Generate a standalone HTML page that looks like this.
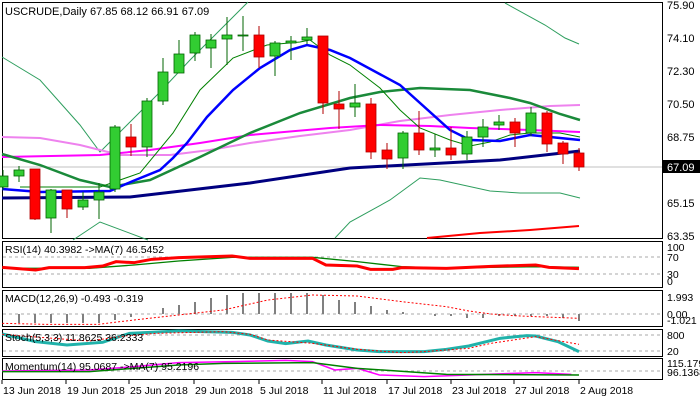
<!DOCTYPE html>
<html><head><meta charset="utf-8"><style>
body{margin:0;background:#fff}
svg{display:block;font-family:"Liberation Sans",sans-serif;font-size:10.5px}
.ns{vector-effect:non-scaling-stroke;fill:none}
</style></head><body>
<svg width="700" height="400" viewBox="0 0 700 400">
<rect width="700" height="400" fill="#fff"/>
<!-- main panel -->
<rect x="2.5" y="2.5" width="660" height="236" fill="none" stroke="#000"/>
<line x1="3" y1="167" x2="662" y2="167" stroke="#c0c0c0"/>
<g fill="none">
<polyline stroke="#2e9e5e" stroke-width="1" points="2,57 40,80 80,125 100,152 130,122 160,92 190,60 220,30 240,10 248,2"/>
<polyline stroke="#2e9e5e" stroke-width="1" points="505,3 545,25 565,38 579,44"/>
<polyline stroke="#2e9e5e" stroke-width="1" points="73,240 100,222 148,240"/>
<polyline stroke="#2e9e5e" stroke-width="1" points="335,238 350,222 390,200 420,178 440,180 490,191 520,193 560,193 580,198"/>
<polyline stroke="#ff0000" stroke-width="2" points="427,238 480,233 530,230 579,226"/>
<polyline stroke="#ee82ee" stroke-width="2" points="2,137 40,138 80,145 120,155 170,155 210,150 250,143 300,136 350,130 400,121 450,115 500,110 550,106 580,105"/>
<polyline stroke="#ff00ff" stroke-width="2" points="2,157 100,155 150,150 200,143 250,135 330,128 380,125 430,126 470,128 530,130 580,132"/>
<polyline stroke="#000080" stroke-width="3" points="2,198 130,197 250,183 350,168 500,160 580,151"/>
<polyline stroke="#1a8a3a" stroke-width="2.5" points="2,154 40,165 80,180 110,187 150,180 200,157 250,133 300,113 350,98 380,92 420,88 470,90 510,98 530,103 560,114 580,120"/>
<polyline stroke="#008000" stroke-width="1" points="20,187 100,187 140,173 173,133 200,90 233,58 267,45 300,42 310,40 330,55 350,65 380,88 400,110 420,128 450,140 470,146 490,142 510,135 530,133 560,133 580,137"/>
<polyline stroke="#0000ff" stroke-width="2.5" points="2,189 40,192 110,191 133,181 160,170 173,158 187,143 207,117 233,90 260,68 290,50 307,45 330,50 350,58 400,85 450,130 470,140 500,141 530,135 550,137 580,140"/>
</g>
<g id="candles"></g>
<g font-size="11" fill="#000">
<text x="5" y="15">USCRUDE,Daily  67.85 68.12 66.91 67.09</text>
<text x="667" y="9">75.90</text><text x="667" y="42">74.10</text><text x="667" y="75">72.30</text>
<text x="667" y="108">70.50</text><text x="667" y="141">68.75</text>
<text x="667" y="207">65.15</text><text x="667" y="240">63.35</text>
</g>
<rect x="663" y="160" width="37" height="13" fill="#000"/>
<text x="667" y="171" fill="#fff" font-size="11">67.09</text>

<rect x="2.5" y="241.5" width="660" height="46" fill="none" stroke="#000"/>
<rect x="2.5" y="290.5" width="660" height="36" fill="none" stroke="#000"/>
<rect x="2.5" y="329.5" width="660" height="27" fill="none" stroke="#000"/>
<rect x="2.5" y="358.5" width="660" height="21" fill="none" stroke="#000"/>
<g stroke="#aaa" stroke-dasharray="3,3">
<line x1="3" y1="257" x2="662" y2="257"/><line x1="3" y1="274" x2="662" y2="274"/>
<line x1="3" y1="314" x2="662" y2="314"/>
<line x1="3" y1="335" x2="662" y2="335"/><line x1="3" y1="351" x2="662" y2="351"/>
<line x1="3" y1="371" x2="662" y2="371"/>
</g>
<g id="macd" stroke="#808080" stroke-width="2"></g>
<g transform="translate(0,235) scale(0.4464,0.3333)">
<polyline class="ns" stroke="#008000" stroke-width="1.3" points="5,100 200,100 300,90 400,78 520,67 700,67 800,80 900,95 1000,100 1100,97 1200,95 1297,97"/>
<polyline class="ns" stroke="#ff0000" stroke-width="3" points="5,97 80,105 110,98 190,98 230,93 260,80 300,83 340,73 400,68 520,63 560,70 700,70 730,90 800,93 830,103 880,103 900,98 1000,100 1050,97 1100,94 1200,90 1230,97 1297,101"/>
<polyline class="ns" stroke="#ff0000" stroke-width="1" stroke-dasharray="2,2" points="5,265 100,268 220,268 300,255 400,240 500,225 600,195 700,180 800,183 900,200 1000,215 1050,228 1100,237 1150,242 1200,245 1297,250"/>
<polyline class="ns" stroke="#20b2aa" stroke-width="3" points="5,297 80,320 150,330 230,322 290,295 400,288 520,292 560,300 600,318 640,326 690,318 730,330 800,345 850,350 950,350 1000,343 1050,333 1120,310 1180,302 1200,303 1250,320 1297,350"/>
<polyline class="ns" stroke="#ff0000" stroke-width="1" stroke-dasharray="2,2" points="5,298 100,308 200,318 280,303 350,295 500,290 560,298 600,315 700,325 800,343 900,353 950,350 1050,340 1100,325 1200,305 1297,328"/>
<polyline class="ns" stroke="#ff00ff" stroke-width="1.5" points="5,408 200,405 300,395 400,383 520,380 640,376 700,380 750,405 800,400 850,420 950,425 1050,420 1150,415 1200,413 1280,418"/>
<polyline class="ns" stroke="#008000" stroke-width="1.5" points="5,410 200,410 400,390 500,385 700,383 800,400 1000,418 1297,420"/>
</g>
<g font-size="10.5" fill="#000">
<text x="5" y="253">RSI(14) 40.3982  -&gt;MA(7) 46.5452</text>
<text x="5" y="302">MACD(12,26,9) -0.493 -0.319</text>
<text x="5" y="341">Stoch(5,3,3) 11.8625 36.2333</text>
<text x="5" y="370">Momentum(14) 95.0687  -&gt;MA(7) 95.2196</text>
<text x="667" y="251">100</text><text x="667" y="261">70</text><text x="667" y="278">30</text><text x="667" y="285">0</text>
<text x="667" y="301">1.993</text><text x="667" y="318">0.00</text><text x="667" y="324">-1.021</text>
<text x="667" y="339">800</text><text x="667" y="355">20</text>
<text x="667" y="367">115.1796</text><text x="667" y="376">96.1368</text>
</g>
<g stroke="#000"><line x1="2" y1="380" x2="2" y2="384"/><line x1="66" y1="380" x2="66" y2="384"/><line x1="129" y1="380" x2="129" y2="384"/><line x1="194" y1="380" x2="194" y2="384"/><line x1="259" y1="380" x2="259" y2="384"/><line x1="322" y1="380" x2="322" y2="384"/><line x1="387" y1="380" x2="387" y2="384"/><line x1="451" y1="380" x2="451" y2="384"/><line x1="514" y1="380" x2="514" y2="384"/><line x1="579" y1="380" x2="579" y2="384"/></g>
<g font-size="10.5" fill="#000">
<text x="3" y="394">13 Jun 2018</text><text x="67" y="394">19 Jun 2018</text><text x="130" y="394">25 Jun 2018</text>
<text x="195" y="394">29 Jun 2018</text><text x="260" y="394">5 Jul 2018</text><text x="323" y="394">11 Jul 2018</text>
<text x="388" y="394">17 Jul 2018</text><text x="452" y="394">23 Jul 2018</text><text x="515" y="394">27 Jul 2018</text>
<text x="580" y="394">2 Aug 2018</text>
</g>
</svg>
<script>
var C=[[3,176,187,170,190,'g'],[19,170,176,166,182,'g'],[35,169,219,169,220,'r'],[51,190,218,189,233,'g'],[67,190,209,190,218,'r'],[83,200,207,192,210,'g'],[99,192,200,183,219,'g'],[115,127,189,125,192,'g'],[131,137,147,124,156,'r'],[147,101,147,98,157,'g'],[163,72,101,58,105,'g'],[179,54,73,40,73,'g'],[195,35,53,32,61,'g'],[211,40,48,34,68,'g'],[227,35,39,17,65,'g'],[243,35,36,16,51,'g'],[259,35,57,26,68,'r'],[275,43,56,41,76,'g'],[291,41,43,36,60,'g'],[307,37,40,28,44,'g'],[323,36,103,36,114,'r'],[339,104,109,91,129,'r'],[355,103,107,84,117,'g'],[371,104,152,98,159,'r'],[387,150,159,143,169,'r'],[403,133,158,131,169,'g'],[419,133,150,111,155,'r'],[435,148,150,134,157,'g'],[451,148,155,127,160,'r'],[467,137,154,131,160,'g'],[483,127,137,119,147,'g'],[499,122,125,115,130,'g'],[515,122,133,118,147,'r'],[531,113,133,107,136,'g'],[547,113,144,111,152,'r'],[563,143,154,141,164,'r'],[579,153,167,148,171,'r']];
var ns='http://www.w3.org/2000/svg',g=document.getElementById('candles');
function el(n,a){var e=document.createElementNS(ns,n);for(var k in a)e.setAttribute(k,a[k]);g.appendChild(e);}
C.forEach(function(c){var col=c[5]=='g'?'#32cd32':'#ff0000',st=c[5]=='g'?'#006400':'#b00000';
el('line',{x1:c[0],x2:c[0],y1:c[3],y2:c[4],stroke:st});
el('rect',{x:c[0]-5,y:c[1],width:10,height:Math.max(1,c[2]-c[1]),fill:col,stroke:st,'stroke-width':0.8});});
var H=[0,-9,-9,-9,-9,-9,-9,-6,-3,0,6,9,12,16,19,21,21,21,21,21,19,14,12,8,4,2,0,-2,-2,-4,-4,-2,-2,-2,-2,-4,-7];
g=document.getElementById('macd');
H.forEach(function(h,i){if(!h)return;var x=3+16*i;el('line',{x1:x,x2:x,y1:314,y2:314-h});});
</script>
</body></html>
